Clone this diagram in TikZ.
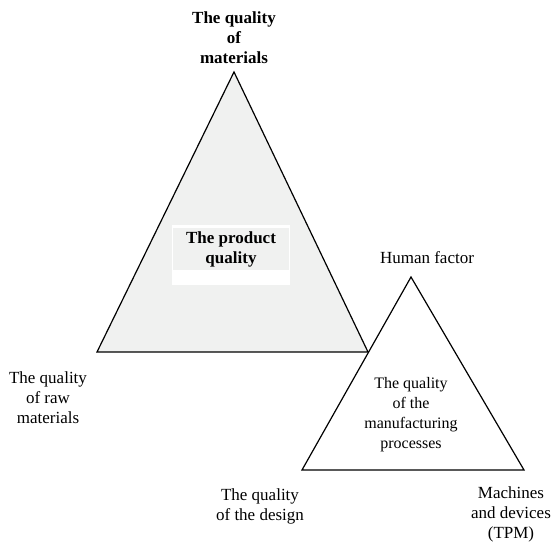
\documentclass[tikz,border=0pt]{standalone}
\usepackage{fontspec}
\setmainfont{Liberation Serif}
\usetikzlibrary{positioning}
\definecolor{trifill}{RGB}{240,241,240}
\tikzset{
  corner text/.style={align=center, font=\fontsize{17}{20}\selectfont},
  top text/.style={corner text, font=\fontsize{17}{20}\selectfont\bfseries},
  triangle/.style={draw, line width=1.2pt, line join=miter}
}

\begin{document}
\begin{tikzpicture}[x=1pt,y=-1pt]
\useasboundingbox (0,0) rectangle (552,545);

% corners of the two triangles
\coordinate (mat)  at (234,72);
\coordinate (raw)  at (97,352);
\coordinate (des)  at (368,352);
\coordinate (hum)  at (411,277);
\coordinate (left) at (302,470);
\coordinate (mach) at (524,470);

% the product triangle
\draw[triangle, fill=trifill] (mat) -- (raw) -- (des) -- cycle;
\fill[white] (172,225) rectangle (290,285);
\fill[trifill] (173,228) rectangle (289,270);
\node[top text] (prod) at (231,249) {The product\\quality};

% the process triangle
\draw[triangle] (hum) -- (left) -- (mach) -- cycle;
\node[corner text, font=\fontsize{16}{20}\selectfont] (proc) at (411,415)
  {The quality\\of the\\manufacturing\\processes};

% labels at the corners
\node[top text] (qmat) at (234,38) {The quality\\of\\materials};
\node[corner text] (qraw) at (48,398) {The quality\\of raw\\materials};
\node[corner text] (qhum) at (427,258) {Human factor};
\node[corner text] (qdes) at (260,506) {The quality\\of the design};
\node[corner text] (qmach) at (511,514) {Machines\\and devices\\(TPM)};

\end{tikzpicture}
\end{document}
